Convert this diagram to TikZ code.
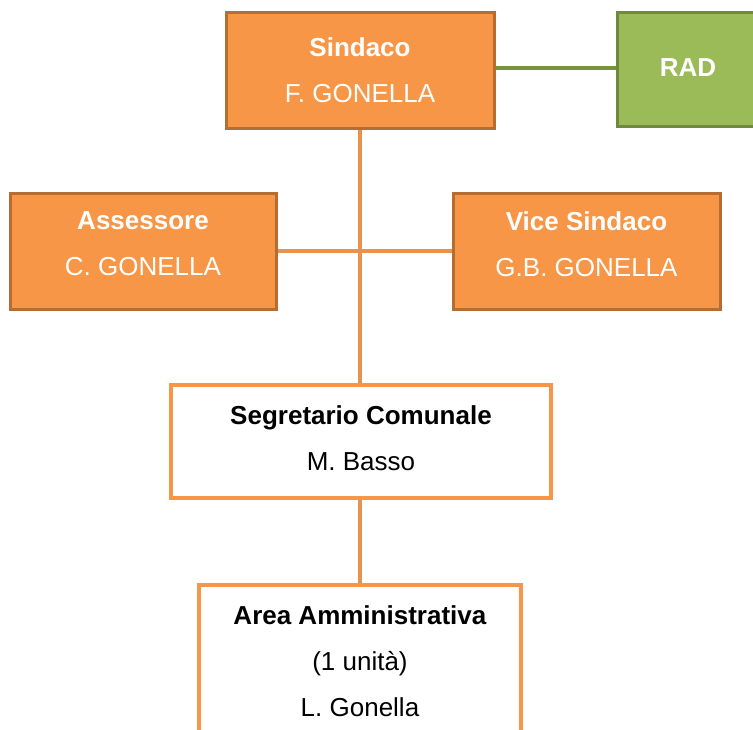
\documentclass[tikz,border=0pt]{standalone}
\usepackage{fontspec}
\setmainfont{Liberation Sans}
\usetikzlibrary{backgrounds}
\definecolor{orfill}{HTML}{F79646}
\definecolor{ordraw}{HTML}{B66D31}
\definecolor{grfill}{HTML}{9BBB59}
\definecolor{grdraw}{HTML}{71893F}
\definecolor{orline}{HTML}{E9924D}
\definecolor{grline}{HTML}{77933C}
\tikzset{
  box/.style={rectangle, inner sep=0pt, line width=3pt},
  orbox/.style={box, fill=orfill, draw=ordraw},
  grbox/.style={box, fill=grfill, draw=grdraw},
  whbox/.style={box, fill=white, draw=orfill, line width=3.5pt},
  lbl/.style={inner sep=0pt, align=center, font=\fontsize{26}{46}\selectfont},
  wlbl/.style={lbl, text=white},
  blbl/.style={lbl, text=black},
  orconn/.style={draw=orline, line width=4pt},
  grconn/.style={draw=grline, line width=4pt},
}
\begin{document}
\begin{tikzpicture}[x=1pt,y=-1pt]
\useasboundingbox (0,0) rectangle (753,729);
\clip (0,0) rectangle (753,729);
\node[orbox, minimum width=268pt, minimum height=116pt] (sindaco) at (360,70) {};
\node[wlbl] (sindacot) at (360,70) {\textbf{Sindaco}\\F. GONELLA};
\node[grbox, minimum width=143pt, minimum height=114pt] (rad) at (688.5,69) {};
\node[wlbl] (radt) at (688,68) {\textbf{RAD}};
\node[orbox, minimum width=266pt, minimum height=116pt] (assessore) at (143,251) {};
\node[wlbl] (assessoret) at (143,244) {\textbf{Assessore}\\C. GONELLA};
\node[orbox, minimum width=267pt, minimum height=116pt] (vice) at (586.5,251) {};
\node[wlbl] (vicet) at (586.5,244) {\textbf{Vice Sindaco}\\G.B. GONELLA};
\node[whbox, minimum width=380pt, minimum height=113pt] (segr) at (361,441.5) {};
\node[blbl] (segrt) at (361,438) {\textbf{Segretario Comunale}\\M. Basso};
\node[whbox, minimum width=322pt, minimum height=152pt] (area) at (360,661) {};
\node[blbl] (areat) at (360,661) {\textbf{Area Amministrativa}\\(1 unità)\\L. Gonella};
\begin{scope}[on background layer]
  \draw[orconn] (sindaco.south) -- (segr.north -| sindaco.south);
  \draw[orconn] (assessore.east) -- (vice.west);
  \draw[orconn] (segr.south -| area.north) -- (area.north);
  \draw[grconn] ([yshift=2pt]sindaco.east) -- ([yshift=2pt]sindaco.east -| rad.west);
\end{scope}
\end{tikzpicture}
\end{document}
